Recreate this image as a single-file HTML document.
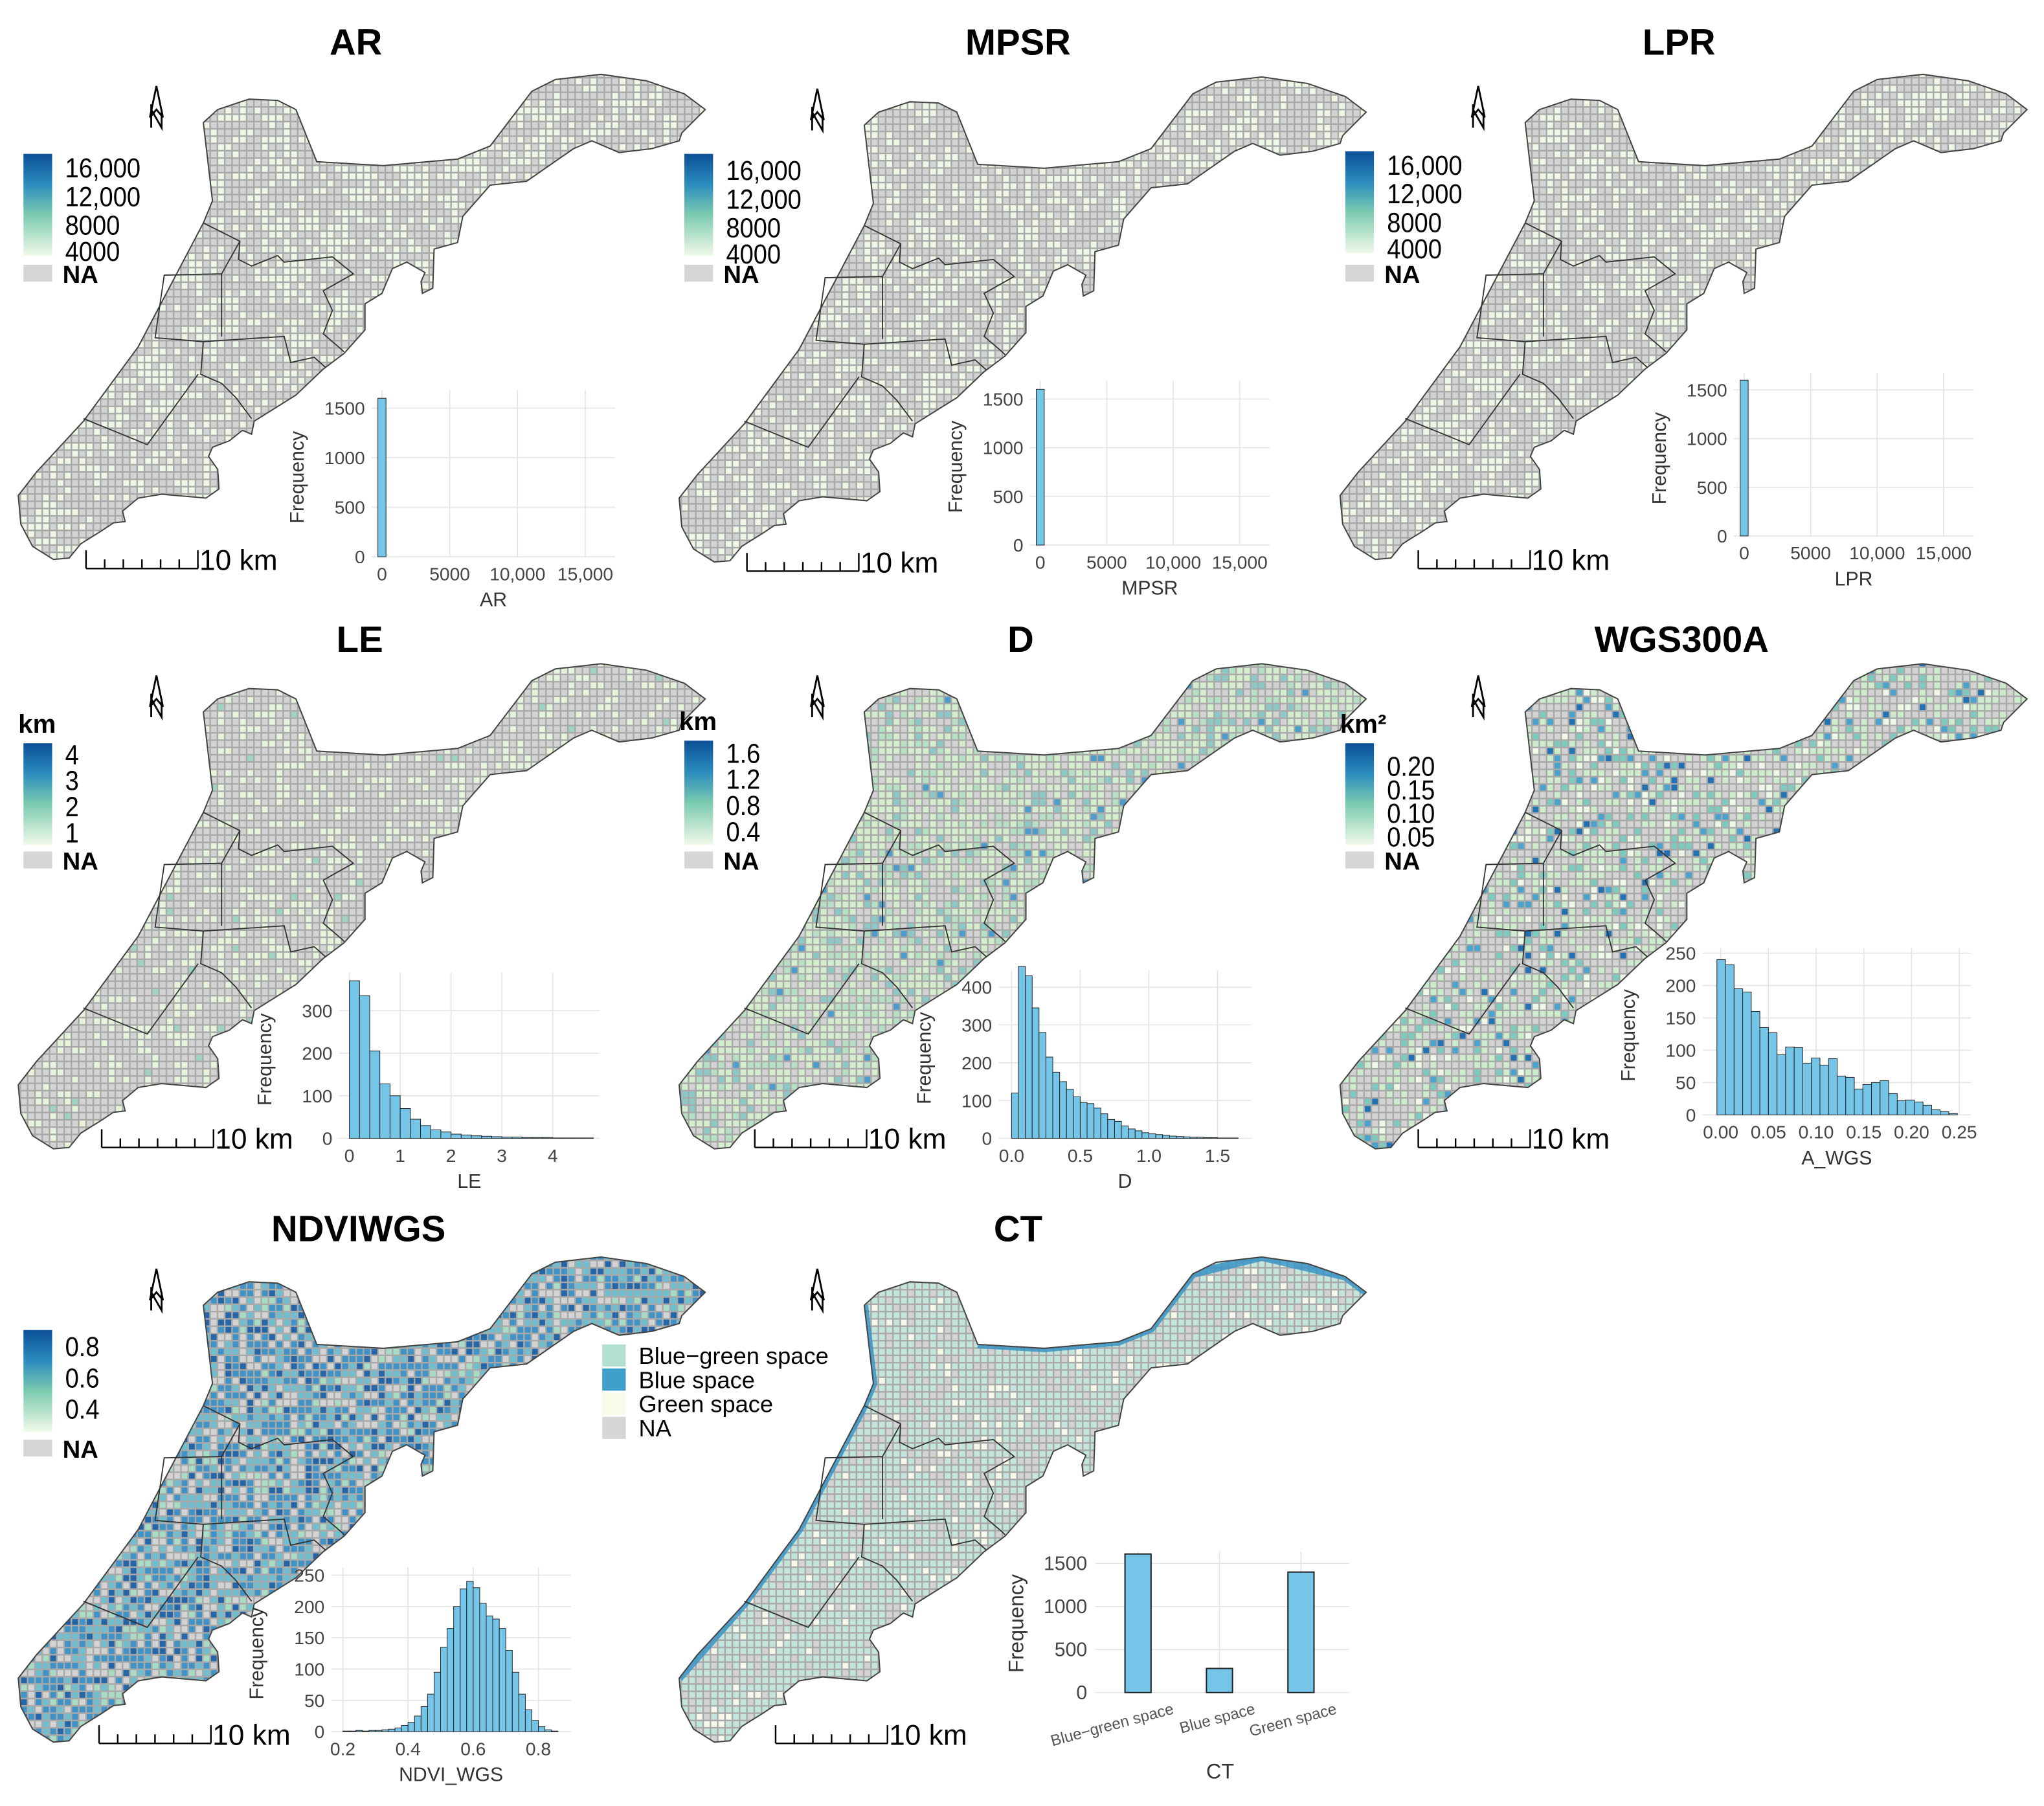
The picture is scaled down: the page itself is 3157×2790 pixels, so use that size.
<!DOCTYPE html>
<html><head><meta charset="utf-8">
<style>
html,body{margin:0;padding:0;background:#fff;}
svg{display:block;font-family:"Liberation Sans",Arial,sans-serif;}
</style></head>
<body>
<svg id="fig" width="3157" height="2790" viewBox="0 0 1568 1385" preserveAspectRatio="none" xmlns="http://www.w3.org/2000/svg">
<defs>
<linearGradient id="cbar" x1="0" y1="0" x2="0" y2="1">
<stop offset="0" stop-color="#0b4f96"/><stop offset="0.3" stop-color="#2b8cbe"/><stop offset="0.6" stop-color="#7ccbb0"/><stop offset="1" stop-color="#f0f9e8"/>
</linearGradient>
<path id="shape" d="M156,94 L167,84 L191,76 L213,77 L227,84 L243,124 L294,127 L351,122 L376,112 L408,70 L426,61 L461,57 L496,62 L525,72 L541,84 L523,102 L521,108 L500,114 L475,117 L454,108 L440,114 L404,139 L376,142 L355,166 L351,186 L333,191 L332,221 L324,225 L323,216 L326,209 L312,201 L301,206 L293,225 L280,233 L280,253 L264,271 L248,283 L227,303 L195,323 L193,333 L186,330 L176,338 L163,343 L160,350 L167,360 L168,375 L158,382 L124,379 L106,382 L94,392 L96,400 L87,401 L78,407 L62,417 L53,428 L41,429 L25,419 L16,402 L14,380 L28,362 L64,323 L106,266 L156,171 L163,154 Z"/>
<clipPath id="clipShape"><use href="#shape"/></clipPath>
</defs>
<g id="root"></g>
</svg>
<script>
// ---------- histogram data ----------
const arVals=[1600];
const mpsrVals=[1600];
const lprVals=[1600];
const leVals=[370,335,205,128,100,70,45,30,20,15,10,8,6,5,4,3,3,2,2,2,1,1,1,1];
const dVals=[120,455,430,345,280,215,175,150,130,110,95,92,80,65,50,45,33,25,20,15,12,10,8,6,5,4,3,3,2,2,1,1,1];
const wgsVals=[240,232,195,190,160,135,127,93,105,104,80,88,77,87,60,58,40,47,50,53,33,22,23,20,15,8,5,2];
const ndviVals=[1,1,2,1,2,2,3,4,6,10,15,25,40,60,95,135,165,200,228,240,230,205,185,180,165,130,95,60,35,18,8,3,1];
const ctCats=["Blue−green space","Blue space","Green space"];
const ctVals=[1610,280,1400];
const bigTicks=[0,5000,10000,15000];
const bigTickLabels=["0","5000","10,000","15,000"];

const NS="http://www.w3.org/2000/svg";
const root=document.getElementById('root');
function mk(tag,attrs,parent){const e=document.createElementNS(NS,tag);for(const k in attrs)e.setAttribute(k,attrs[k]);(parent||root).appendChild(e);return e;}
function txt(s,attrs,parent){const e=mk('text',attrs,parent);e.textContent=s;return e;}

// deterministic texture generator for map cells
let seed=12345;
function rnd(){seed=(seed*1103515245+12345)%2147483648;return seed/2147483648;}
const palettes={
 gray:[[0.62,"#d3d3d3"],[1,"#eef7e6"]],
 le:[[0.7,"#d3d3d3"],[0.98,"#e6f4dc"],[1,"#9fd5c0"]],
 d:[[0.25,"#d3d3d3"],[0.7,"#d4edcc"],[0.88,"#b6e0c4"],[0.97,"#8cc9c6"],[1,"#4c9dcb"]],
 w:[[0.42,"#d3d3d3"],[0.72,"#cdeccb"],[0.82,"#eef8e6"],[0.92,"#7ccbbe"],[0.97,"#4aa3cc"],[1,"#2271b3"]],
 n:[[0.22,"#d3d3d3"],[0.32,"#a8dcc4"],[0.55,"#6fbfd0"],[0.85,"#3f93c6"],[1,"#2566a8"]],
 c:[[0.2,"#d3d3d3"],[0.28,"#f5f9ea"],[1,"#c3e5dc"]]
};
function pick(pal){const r=rnd();for(const p of pal)if(r<=p[0])return p[1];return pal[pal.length-1][1];}

const panels=[
 {dx:0,dy:0,t:"AR",pal:"gray",tx:273,ty:32},
 {dx:507,dy:2,t:"MPSR",pal:"gray",tx:781,ty:32},
 {dx:1014,dy:0,t:"LPR",pal:"gray",tx:1288,ty:32},
 {dx:0,dy:452,t:"LE",pal:"le",tx:276,ty:490},
 {dx:507,dy:452,t:"D",pal:"d",tx:783,ty:490},
 {dx:1014,dy:452,t:"WGS300A",pal:"w",tx:1290,ty:490},
 {dx:0,dy:907,t:"NDVIWGS",pal:"n",tx:275,ty:942},
 {dx:507,dy:907,t:"CT",pal:"c",tx:781,ty:942}
];
panels.forEach(p=>{
  const g=mk('g',{transform:`translate(${p.dx},${p.dy})`});
  
  
  const cg=mk('g',{'clip-path':'url(#clipShape)'},g);
  mk('rect',{x:0,y:50,width:560,height:390,fill:'#a9a9a9'},cg);
  const cs=5.6;
  for(let y=54;y<432;y+=cs){for(let x=10;x<546;x+=cs){
    mk('rect',{x:x+0.6,y:y+0.6,width:cs-1.2,height:cs-1.2,fill:pick(palettes[p.pal])},cg);
  }}
  if(p.t==="CT"){mk('path',{d:"M14,380 L64,323 L106,266 L156,171 L163,154 L156,94 M243,124 L294,127 L351,122 L376,112 L408,70 L461,57 L525,72 L541,84",fill:'none',stroke:'#3a95c6','stroke-width':6,opacity:0.85},cg);}
  mk('use',{href:'#shape',fill:'none',stroke:'#444','stroke-width':1},g);
  mk('path',{d:"M156,171 L184,185 L183,199 L193,204 L213,196 L218,201 L255,197 L271,210 L248,223 L255,238 L248,256 L262,268 L264,270 M170,210 L170,258 M184,185 L170,210 L126,211 L119,259 L156,262 L218,258 L223,278 L241,274 L250,282 M156,262 L154,287 L170,294 L181,305 L193,321 M152,287 L113,341 L64,321",fill:'none',stroke:'#333','stroke-width':0.9},g);
  const na=mk('g',{transform:'translate(120,66)'},g);
  
  
  mk('path',{d:"M0,0 L-5,24 L0,18 L5,24 Z M-4,14 L-4,32 M-4,18 L4,32 L4,18",fill:'none',stroke:'#000','stroke-width':1.4},na);
  const sb=mk('g',{},g);
  
  
  const sx=p.dx>=1014?74:(p.t==="LE"?78:(p.t==="D"?72:(p.t==="NDVIWGS"?76:(p.t==="CT"?88:66))));
  const sy=p.dy>=905?430:(p.dy>=450?428:436);
  mk('path',{d:`M${sx},${sy} L${sx+86},${sy}`+[0,1,2,3,4,5,6].map(i=>` M${sx+i*14.3},${sy} L${sx+i*14.3},${sy-(i%6==0?14:7)}`).join(''),stroke:'#000','stroke-width':1.2,fill:'none'},sb);
  txt('10 km',{x:sx+87,y:sy+1,'font-size':22},sb);
  const tt=txt(p.t,{x:p.tx-p.dx,y:p.ty-p.dy+10,'font-size':28,'font-weight':'bold','text-anchor':'middle'},g);
  
  
});

// ---------- continuous legends ----------
const legends=[
 {x:18,y:118,h:78,title:null,labels:["16,000","12,000","8000","4000"],ly:[136,158,180,200],nay:203},
 {x:525,y:118,h:78,title:null,labels:["16,000","12,000","8000","4000"],ly:[138,160,182,202],nay:203},
 {x:1032,y:116,h:78,title:null,labels:["16,000","12,000","8000","4000"],ly:[134,156,178,198],nay:203},
 {x:18,y:570,h:78,title:"km",labels:["4","3","2","1"],ly:[586,606,626,646],nay:653},
 {x:525,y:568,h:80,title:"km",labels:["1.6","1.2","0.8","0.4"],ly:[585,605,625,645],nay:653},
 {x:1032,y:570,h:78,title:"km²",labels:["0.20","0.15","0.10","0.05"],ly:[595,613,631,649],nay:653},
 {x:18,y:1020,h:78,title:null,labels:["0.8","0.6","0.4"],ly:[1040,1064,1088],nay:1104}
];
legends.forEach(l=>{
  const g=mk('g',{});
  
  
  if(l.title)txt(l.title,{x:l.x-4,y:l.y-8,'font-size':20,'font-weight':'bold'},g);
  mk('rect',{x:l.x,y:l.y,width:22,height:l.h,fill:'url(#cbar)'},g);
  l.labels.forEach((s,i)=>txt(s,{x:l.x+32,y:l.ly[i],'font-size':21,transform:`translate(${(l.x+32)*0.1},0) scale(0.9,1)`},g));
  mk('rect',{x:l.x,y:l.nay,width:22,height:13,fill:'#d6d6d6'},g);
  txt('NA',{x:l.x+30,y:l.nay+14,'font-size':19,'font-weight':'bold'},g);
});
const ctLeg=mk('g',{});


[["Blue−green space","#b2e0d3"],["Blue space","#3fa0cc"],["Green space","#f7fbe8"],["NA","#d6d6d6"]].forEach((c,i)=>{
  mk('rect',{x:462,y:1031+i*18.5,width:18,height:17,fill:c[1]},ctLeg);
  txt(c[0],{x:490,y:1046+i*18.5,'font-size':18},ctLeg);
});

// ---------- histograms ----------
function hist(o){
  const g=mk('g',{});
  
  
  mk('rect',{x:o.x0,y:o.y1-6,width:o.x1-o.x0,height:o.y0-o.y1+6,fill:'#fff'},g);
  const X=v=>o.xa+(v-o.xv0)*(o.xb-o.xa)/(o.xv1-o.xv0);
  const Y=v=>o.y0-v*(o.ypx);
  o.yt.forEach(v=>{mk('line',{x1:o.x0,x2:o.x1,y1:Y(v),y2:Y(v),stroke:'#e4e4e4','stroke-width':0.8},g);
    txt(String(v),{x:o.x0-5,y:Y(v)+5,'font-size':14,fill:'#444','text-anchor':'end'},g);});
  o.xt.forEach((v,i)=>{mk('line',{x1:X(v),x2:X(v),y1:o.y1-6,y2:o.y0,stroke:'#e4e4e4','stroke-width':0.8},g);
    txt(o.xl[i],{x:X(v),y:o.y0+18,'font-size':14,fill:'#444','text-anchor':'middle'},g);});
  o.vals.forEach((v,i)=>{
    const b=mk('rect',{x:X(o.start+i*o.bw),y:Y(v),width:Math.max(X(o.start+(i+1)*o.bw)-X(o.start+i*o.bw),1.5),height:v*o.ypx,fill:'#74c5e8',stroke:'#222','stroke-width':0.5},g);
    
    
  });
  txt(o.xlab,{x:(o.x0+o.x1)/2,y:o.y0+38,'font-size':15,fill:'#333','text-anchor':'middle'},g);
  txt('Frequency',{x:0,y:0,'font-size':15,fill:'#333','text-anchor':'middle',transform:`translate(${o.x0-52},${(o.y0+o.y1)/2}) rotate(-90)`},g);
}
hist({name:'ar-histogram',x0:285,x1:472,y0:427,y1:305,ypx:(427-313)/1500,yt:[0,500,1000,1500],xa:293,xb:449,xv0:0,xv1:15000,xt:bigTicks,xl:bigTickLabels,start:-300,bw:600,vals:arVals,xlab:'AR'});
hist({name:'mpsr-histogram',x0:790,x1:974,y0:418,y1:298,ypx:(418-306)/1500,yt:[0,500,1000,1500],xa:798,xb:951,xv0:0,xv1:15000,xt:bigTicks,xl:bigTickLabels,start:-300,bw:600,vals:mpsrVals,xlab:'MPSR'});
hist({name:'lpr-histogram',x0:1330,x1:1514,y0:411,y1:292,ypx:(411-299)/1500,yt:[0,500,1000,1500],xa:1338,xb:1491,xv0:0,xv1:15000,xt:bigTicks,xl:bigTickLabels,start:-300,bw:600,vals:lprVals,xlab:'LPR'});
hist({name:'le-histogram',x0:260,x1:460,y0:873,y1:752,ypx:(873-775)/300,yt:[0,100,200,300],xa:268,xb:424,xv0:0,xv1:4,xt:[0,1,2,3,4],xl:["0","1","2","3","4"],start:0,bw:0.2,vals:leVals,xlab:'LE'});
hist({name:'d-histogram',x0:766,x1:960,y0:873,y1:750,ypx:(873-757)/400,yt:[0,100,200,300,400],xa:776,xb:934,xv0:0,xv1:1.5,xt:[0,0.5,1,1.5],xl:["0.0","0.5","1.0","1.5"],start:0,bw:0.05,vals:dVals,xlab:'D'});
hist({name:'wgs-histogram',x0:1306,x1:1512,y0:855,y1:733,ypx:(855-731)/250,yt:[0,50,100,150,200,250],xa:1320,xb:1503,xv0:0,xv1:0.25,xt:[0,0.05,0.1,0.15,0.2,0.25],xl:["0.00","0.05","0.10","0.15","0.20","0.25"],start:-0.004,bw:0.009,vals:wgsVals,xlab:'A_WGS'});
hist({name:'ndvi-histogram',x0:254,x1:438,y0:1328,y1:1208,ypx:(1328-1208)/250,yt:[0,50,100,150,200,250],xa:263,xb:413,xv0:0.2,xv1:0.8,xt:[0.2,0.4,0.6,0.8],xl:["0.2","0.4","0.6","0.8"],start:0.2,bw:0.02,vals:ndviVals,xlab:'NDVI_WGS'});

(function(){
  const g=mk('g',{});
  
  
  const x0=840,x1=1035,y0=1298,ypx=(1298-1199)/1500;
  [0,500,1000,1500].forEach(v=>{mk('line',{x1:x0,x2:x1,y1:y0-v*ypx,y2:y0-v*ypx,stroke:'#e4e4e4','stroke-width':0.8},g);
    txt(String(v),{x:x0-6,y:y0-v*ypx+5,'font-size':15,fill:'#444','text-anchor':'end'},g);});
  ctCats.forEach((c,i)=>{
    const cx=873+i*62.5;
    mk('line',{x1:cx,x2:cx,y1:1190,y2:y0,stroke:'#e4e4e4','stroke-width':0.8},g);
    const b=mk('rect',{x:cx-10,y:y0-ctVals[i]*ypx,width:20,height:ctVals[i]*ypx,fill:'#74c5e8',stroke:'#222','stroke-width':1},g);
    
    
    txt(c,{x:0,y:0,'font-size':12,fill:'#555','text-anchor':'end',transform:`translate(${cx+28},${y0+16}) rotate(-15)`},g);
  });
  txt('CT',{x:936,y:1364,'font-size':16,fill:'#333','text-anchor':'middle'},g);
  txt('Frequency',{x:0,y:0,'font-size':16,fill:'#333','text-anchor':'middle',transform:`translate(785,1245) rotate(-90)`},g);
})();
</script>
</body></html>
